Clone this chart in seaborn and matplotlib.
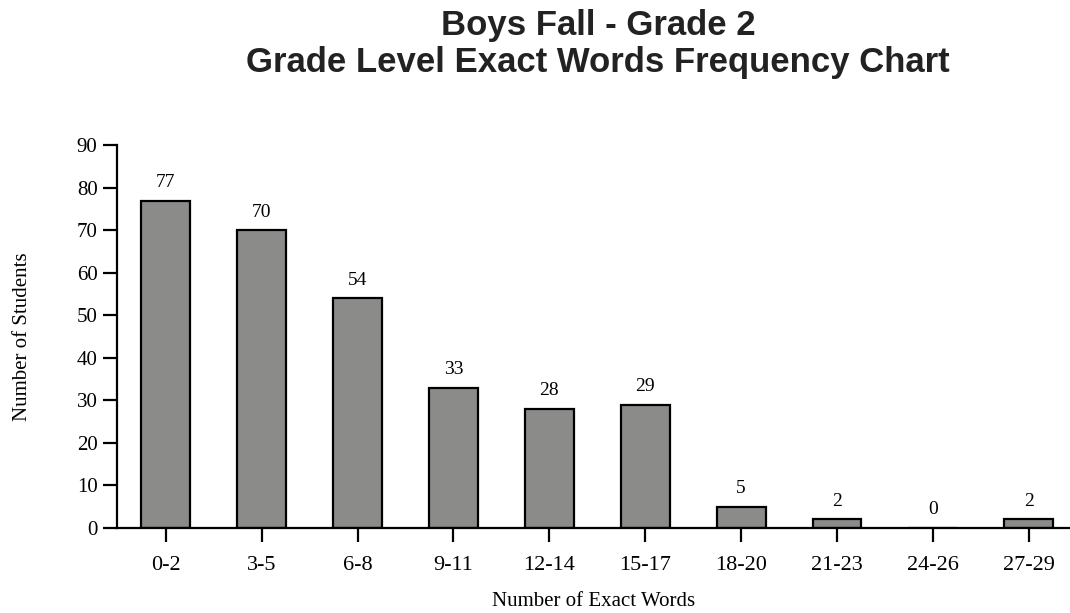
import seaborn as sns
import matplotlib.pyplot as plt
import pandas as pd

# Data
ranges = ['0-2', '3-5', '6-8', '9-11', '12-14', '15-17', '18-20', '21-23', '24-26', '27-29']
students = [77, 70, 54, 33, 28, 29, 5, 2, 0, 2]

df = pd.DataFrame({'range': ranges, 'students': students})

sns.set_style('white')
plt.rcParams['font.family'] = ['Liberation Serif', 'DejaVu Serif']
plt.rcParams['text.color'] = 'black'
plt.rcParams['axes.labelcolor'] = 'black'
plt.rcParams['xtick.color'] = 'black'
plt.rcParams['ytick.color'] = 'black'

fig = plt.figure(figsize=(10.7, 6.13), dpi=100)
ax = fig.add_axes([0.1093, 0.139, 0.8907, 0.624])

sns.barplot(data=df, x='range', y='students', color='#8b8c89', saturation=1,
            edgecolor='black', linewidth=1.6, width=0.51, ax=ax)

# value labels above the bars
for i, v in enumerate(students):
    ax.annotate(str(v), (i, v), xytext=(0, 7), textcoords='offset points',
                ha='center', va='bottom', fontsize=14)

ax.set_ylim(0, 90)
ax.set_xlim(-0.51, 9.43)
ax.set_yticks(range(0, 91, 10))
ax.tick_params(axis='both', direction='out', length=10, width=1.6,
               bottom=True, left=True)
ax.tick_params(axis='x', labelsize=16, pad=10)
ax.tick_params(axis='y', labelsize=15, pad=4)
for s in ['top', 'right']:
    ax.spines[s].set_visible(False)
for s in ['left', 'bottom']:
    ax.spines[s].set_linewidth(1.6)
    ax.spines[s].set_color('black')

ax.set_xlabel('Number of Exact Words', fontsize=15)
ax.set_ylabel('Number of Students', fontsize=15)
ax.xaxis.set_label_coords(0.5, -0.169)
ax.yaxis.set_label_coords(-0.089, 0.5)

fig.text(0.559, 0.943, 'Boys Fall - Grade 2', ha='center', va='baseline',
         fontsize=25, fontweight='bold', family='Liberation Sans', color='#222222')
fig.text(0.559, 0.8825, 'Grade Level Exact Words Frequency Chart', ha='center',
         va='baseline', fontsize=25, fontweight='bold', family='Liberation Sans',
         color='#222222')

fig.savefig('out.png', dpi=100)
